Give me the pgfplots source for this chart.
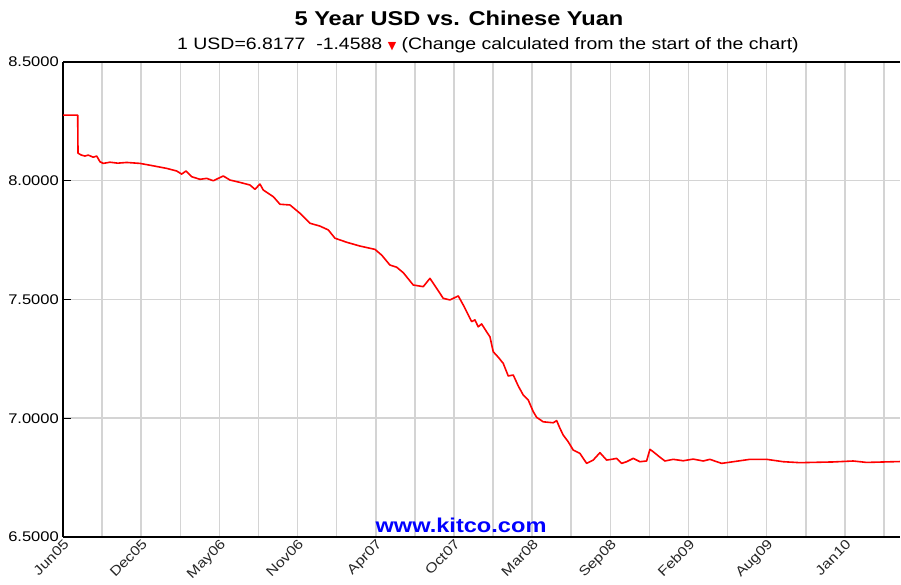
\documentclass[border=0pt]{standalone}
\usepackage{pgfplots}
\pgfplotsset{compat=1.18}
\usepackage{fontspec}
\setmainfont{Liberation Sans}[FakeStretch=1.18]
\newfontfamily\symfont{DejaVu Sans}
\pgfplotstableread{
u y
0.000 8.2765
0.376 8.2765
0.384 8.116
0.470 8.108
0.560 8.104
0.645 8.108
0.775 8.099
0.862 8.104
0.946 8.080
1.030 8.073
1.202 8.078
1.400 8.074
1.629 8.077
1.969 8.073
2.302 8.063
2.652 8.052
2.908 8.041
3.036 8.028
3.146 8.041
3.292 8.017
3.504 8.006
3.675 8.010
3.844 8.000
4.100 8.020
4.271 8.003
4.527 7.993
4.783 7.982
4.910 7.964
5.038 7.986
5.123 7.961
5.379 7.933
5.550 7.901
5.806 7.898
6.061 7.863
6.317 7.821
6.573 7.809
6.785 7.793
6.957 7.758
7.256 7.741
7.596 7.725
7.980 7.711
8.151 7.687
8.363 7.645
8.535 7.636
8.703 7.613
8.959 7.561
9.215 7.554
9.386 7.589
9.557 7.547
9.726 7.505
9.898 7.498
10.110 7.515
10.238 7.477
10.366 7.435
10.453 7.407
10.537 7.414
10.621 7.385
10.708 7.397
10.836 7.364
10.921 7.343
11.005 7.280
11.133 7.257
11.261 7.231
11.389 7.178
11.517 7.182
11.645 7.136
11.772 7.098
11.900 7.077
12.028 7.028
12.115 7.004
12.284 6.985
12.540 6.981
12.627 6.990
12.711 6.958
12.795 6.929
12.923 6.901
13.051 6.866
13.223 6.852
13.394 6.810
13.563 6.824
13.734 6.855
13.905 6.824
14.033 6.827
14.161 6.831
14.289 6.810
14.417 6.817
14.586 6.831
14.757 6.817
14.928 6.820
15.013 6.869
15.097 6.859
15.269 6.836
15.396 6.820
15.609 6.827
15.864 6.821
16.120 6.828
16.376 6.820
16.547 6.827
16.846 6.810
17.143 6.817
17.570 6.827
17.997 6.827
18.422 6.817
18.849 6.813
19.701 6.816
20.212 6.820
20.555 6.814
21.407 6.8177
}\usdcny
\begin{document}
\begin{tikzpicture}[x=1pt,y=1pt]
\path[use as bounding box] (0,0) rectangle (901,585);
\begin{axis}[
  at={(63pt,48pt)}, anchor=south west,
  scale only axis, width=837pt, height=475pt,
  xmin=0, xmax=21.41, ymin=6.5, ymax=8.5,
  axis x line=box, axis y line=left,
  axis line style={-, black, line width=1.3pt},
  xtick={0,2,...,20},
  xticklabels={Jun05,Dec05,May06,Nov06,Apr07,Oct07,Mar08,Sep08,Feb09,Aug09,Jan10},
  xtick pos=bottom,
  minor xtick={1,3,...,21},
  xtick style={draw=none}, minor x tick style={draw=none},
  xmajorgrids, xminorgrids, ymajorgrids,
  grid style={black!17, line width=1.5pt},
  minor grid style={black!17, line width=1.5pt},
  ytick={6.5,7,7.5,8,8.5},
  ytick pos=left, tick align=inside,
  ytick style={black, line width=1pt},
  major tick length=8pt,
  y tick label style={/pgf/number format/fixed, /pgf/number format/fixed zerofill, /pgf/number format/precision=4, /pgf/number format/assume math mode=true, font=\fontsize{14}{16}\selectfont, inner sep=2pt, xshift=-2pt},
  x tick label style={rotate=45, anchor=north east, font=\fontsize{13.5}{15}\selectfont, text=black!85, inner sep=1pt},
]
\addplot[red, line width=1.6pt, line join=round] table[x=u, y=y] {\usdcny};
\end{axis}
\node[font=\fontsize{20}{24}\selectfont\bfseries] at (459,567) {5 Year USD vs. Chinese Yuan};
\node[font=\fontsize{16.5}{18}\selectfont] at (488,540) {1 USD=6.8177\ \ -1.4588 {\color{red}\symfont\fontsize{11}{12}\selectfont ▼} (Change calculated from the start of the chart)};
\node[font=\fontsize{20}{24}\selectfont\bfseries, text=blue] at (461,60) {www.kitco.com};
\end{tikzpicture}
\end{document}
